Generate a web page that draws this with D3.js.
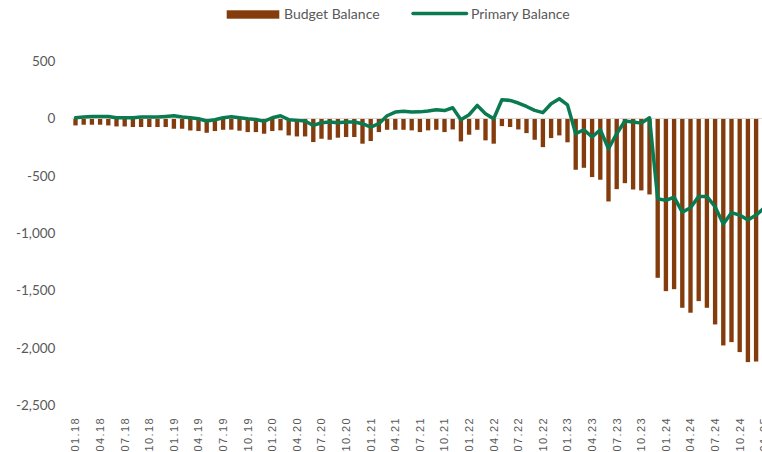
<!DOCTYPE html>
<html>
<head>
<meta charset="utf-8">
<script src="https://cdn.jsdelivr.net/npm/d3@7"></script>
<style>
  body { margin: 0; background: #fff; }
  svg { display: block; }
  .tick text { fill: #595959; }
</style>
</head>
<body>
<div id="content"></div>
<script>
var months = [
    "01.18","02.18","03.18","04.18","05.18","06.18","07.18","08.18","09.18","10.18","11.18","12.18",
    "01.19","02.19","03.19","04.19","05.19","06.19","07.19","08.19","09.19","10.19","11.19","12.19",
    "01.20","02.20","03.20","04.20","05.20","06.20","07.20","08.20","09.20","10.20","11.20","12.20",
    "01.21","02.21","03.21","04.21","05.21","06.21","07.21","08.21","09.21","10.21","11.21","12.21",
    "01.22","02.22","03.22","04.22","05.22","06.22","07.22","08.22","09.22","10.22","11.22","12.22",
    "01.23","02.23","03.23","04.23","05.23","06.23","07.23","08.23","09.23","10.23","11.23","12.23",
    "01.24","02.24","03.24","04.24","05.24","06.24","07.24","08.24","09.24","10.24","11.24","12.24",
    "01.25"
];

var budgetBalance = [
    -61, -55, -55, -55, -61, -70, -70, -75, -75, -75, -75, -75,
    -90, -90, -105, -110, -125, -110, -99, -98, -107, -119, -119, -133,
    -110, -104, -148, -157, -157, -206, -177, -186, -168, -162, -162, -220,
    -197, -119, -99, -99, -99, -104, -119, -104, -99, -119, -96, -200,
    -142, -99, -191, -220, -67, -75, -96, -128, -186, -250, -171, -148,
    -208, -447, -430, -511, -534, -723, -616, -564, -619, -627, -662, -1388,
    -1504, -1487, -1649, -1692, -1591, -1649, -1794, -1977, -1948, -2035, -2122, -2117,
    -2102
];

var primaryBalance = [
    6, 12, 17, 17, 17, 6, 6, 6, 12, 12, 12, 17,
    23, 12, 6, -3, -23, -11, 6, 15, 6, -3, -9, -26,
    6, 23, -11, -17, -23, -61, -38, -32, -38, -32, -32, -46,
    -75, -46, 23, 55, 62, 55, 57, 65, 75, 68, 93, -11,
    32, 113, 41, -3, 163, 157, 134, 104, 70, 50, 128, 171,
    118, -133, -99, -162, -99, -264, -133, -23, -32, -41, 6, -699,
    -714, -685, -816, -778, -679, -679, -769, -920, -821, -842, -885, -842,
    -778
];

var yTicks = [-2500, -2000, -1500, -1000, -500, 0, 500];
var seriesNames = ["Budget Balance", "Primary Balance"];

var barColor = "#843C0C",
    lineColor = "#0A7B50";

var width = 762, height = 452;

var svg = d3.select("div#content").append("svg")
    .attr("width", width)
    .attr("height", height);

var x = d3.scaleBand()
    .domain(months)
    .range([71.4, 71.4 + months.length * 8.2])
    .paddingInner(0.47)
    .paddingOuter(0.235);

var y = d3.scaleLinear()
    .domain([-2500, 500])
    .range([405.5, 61]);

var fmt = d3.formatLocale({
    decimal: ".", thousands: ",", grouping: [3], currency: ["", ""], minus: "-"
}).format(",");

// y axis labels only
var yAxis = svg.append("g")
    .attr("transform", "translate(71.4,0)")
    .call(d3.axisLeft(y).tickValues(yTicks).tickSize(0).tickPadding(16).tickFormat(fmt));
yAxis.select(".domain").remove();
yAxis.selectAll("text")
    .style("font-family", "Lato, sans-serif")
    .style("font-size", "13.5px");

// x axis labels, every quarter, rotated
var xTicks = months.filter(function(d, i) { return i % 3 === 0; });
var xAxis = svg.append("g")
    .attr("transform", "translate(0,417)")
    .call(d3.axisBottom(x).tickValues(xTicks).tickSize(0));
xAxis.select(".domain").remove();
xAxis.selectAll("text")
    .attr("x", 0)
    .attr("y", 0)
    .attr("dy", "0.36em")
    .attr("transform", "rotate(-90)")
    .style("text-anchor", "end")
    .style("font-family", "'Liberation Sans', Arial, sans-serif")
    .style("font-size", "11px")
    .style("letter-spacing", "1.4px");

// bars
svg.selectAll(".bar")
    .data(budgetBalance)
    .enter().append("rect")
    .attr("class", "bar")
    .attr("x", function(d, i) { return x(months[i]); })
    .attr("width", x.bandwidth())
    .attr("y", function(d) { return y(Math.max(0, d)); })
    .attr("height", function(d) { return Math.abs(y(d) - y(0)); })
    .attr("fill", barColor);

// zero line
svg.append("line")
    .attr("x1", x.range()[0])
    .attr("x2", x.range()[1])
    .attr("y1", y(0))
    .attr("y2", y(0))
    .attr("stroke", "#D9D9D9")
    .attr("stroke-width", 1);

var line = d3.line()
    .x(function(d, i) { return x(months[i]) + x.bandwidth() / 2; })
    .y(function(d) { return y(d); });

svg.append("path")
    .datum(primaryBalance)
    .attr("fill", "none")
    .attr("stroke", lineColor)
    .attr("stroke-width", 3.5)
    .attr("stroke-linejoin", "round")
    .attr("stroke-linecap", "round")
    .attr("d", line);

// legend
var legend = svg.append("g")
    .style("font-family", "Lato, sans-serif")
    .style("font-size", "14px")
    .attr("fill", "#595959");

legend.append("rect")
    .attr("x", 226.7).attr("y", 10.3)
    .attr("width", 52.6).attr("height", 8.4)
    .attr("fill", barColor);
legend.append("text")
    .attr("x", 284).attr("y", 14.5).attr("dy", "0.35em")
    .text(seriesNames[0]);

legend.append("line")
    .attr("x1", 413).attr("x2", 466.5)
    .attr("y1", 13.5).attr("y2", 13.5)
    .attr("stroke", lineColor)
    .attr("stroke-width", 3.5)
    .attr("stroke-linecap", "round");
legend.append("text")
    .attr("x", 471).attr("y", 14.5).attr("dy", "0.35em")
    .text(seriesNames[1]);
</script>
</body>
</html>
